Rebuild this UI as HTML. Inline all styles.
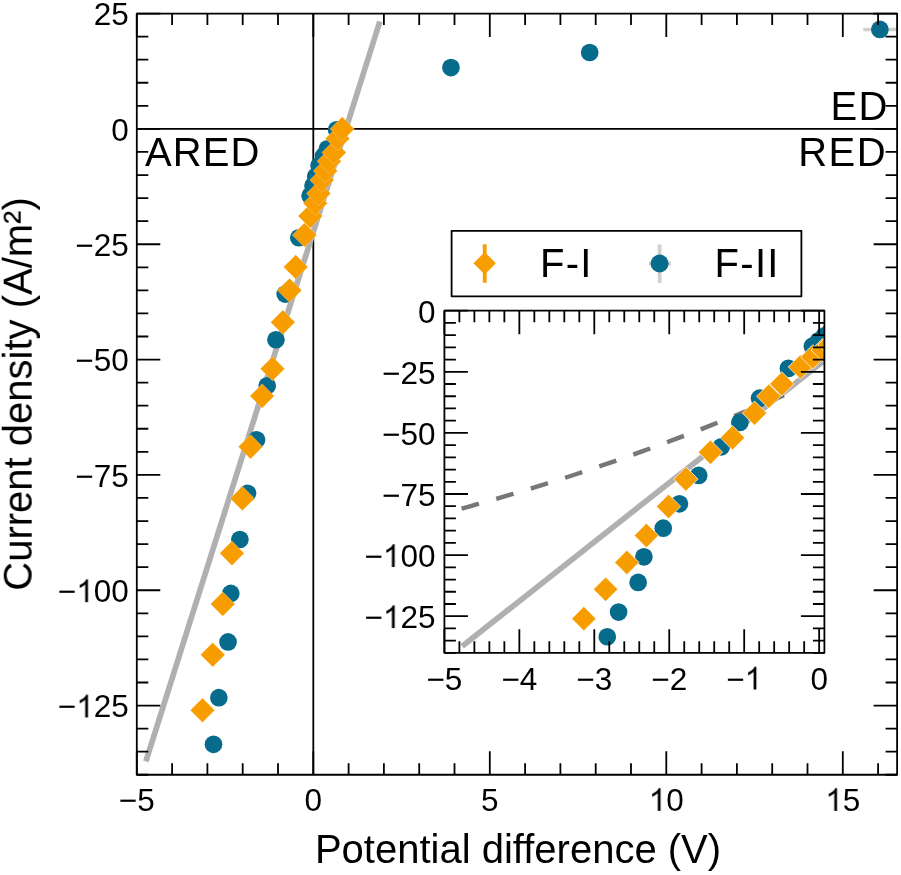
<!DOCTYPE html>
<html><head><meta charset="utf-8"><style>
html,body{margin:0;padding:0;background:#fff;}
body{width:901px;height:875px;overflow:hidden;font-family:"Liberation Sans",sans-serif;}
svg{display:block;} text{will-change:transform;}
</style></head><body>
<svg width="901" height="875" viewBox="0 0 901 875"><defs><clipPath id="mc"><rect x="136.8" y="13.57" width="760.3" height="761.19"/></clipPath><clipPath id="ic"><rect x="444.4" y="310.7" width="380" height="342.16"/></clipPath></defs><rect width="901" height="875" fill="#fff"/><line x1="136.8" y1="128.9" x2="897.1" y2="128.9" stroke="#000" stroke-width="1.8"/><line x1="313.3" y1="13.57" x2="313.3" y2="774.76" stroke="#000" stroke-width="1.8"/><g clip-path="url(#mc)"><line x1="145.87" y1="761.46" x2="379.84" y2="21.5" stroke="#B0B0B0" stroke-width="5.7"/><line x1="863.27" y1="29.39" x2="897.52" y2="29.39" stroke="#D0D0D0" stroke-width="3.5"/><circle cx="213.51" cy="744.31" r="8.85" fill="#076B8C"/><circle cx="218.84" cy="697.72" r="8.85" fill="#076B8C"/><circle cx="228.05" cy="641.9" r="8.85" fill="#076B8C"/><circle cx="230.77" cy="593.46" r="8.85" fill="#076B8C"/><circle cx="239.88" cy="539.48" r="8.85" fill="#076B8C"/><circle cx="247.5" cy="493.35" r="8.85" fill="#076B8C"/><circle cx="256.57" cy="439.84" r="8.85" fill="#076B8C"/><circle cx="267.2" cy="385.86" r="8.85" fill="#076B8C"/><circle cx="275.95" cy="339.73" r="8.85" fill="#076B8C"/><circle cx="285.24" cy="294.06" r="8.85" fill="#076B8C"/><circle cx="298.83" cy="237.77" r="8.85" fill="#076B8C"/><circle cx="310.12" cy="195.79" r="8.85" fill="#076B8C"/><circle cx="313.02" cy="185.64" r="8.85" fill="#076B8C"/><circle cx="315.7" cy="176.42" r="8.85" fill="#076B8C"/><circle cx="319.09" cy="165.58" r="8.85" fill="#076B8C"/><circle cx="323.54" cy="155.89" r="8.85" fill="#076B8C"/><circle cx="327.42" cy="148.74" r="8.85" fill="#076B8C"/><circle cx="336.6" cy="129.82" r="8.85" fill="#076B8C"/><circle cx="450.97" cy="67.54" r="8.85" fill="#076B8C"/><circle cx="589.7" cy="52.5" r="8.85" fill="#076B8C"/><circle cx="879.87" cy="29.39" r="8.85" fill="#076B8C"/><path d="M202.49 697.98L214.69 710.18L202.49 722.38L190.29 710.18Z" fill="#F79D00" stroke="#fff" stroke-width="0.25"/><path d="M212.73 642.62L224.93 654.82L212.73 667.02L200.53 654.82Z" fill="#F79D00" stroke="#fff" stroke-width="0.25"/><path d="M222.76 591.87L234.96 604.07L222.76 616.27L210.56 604.07Z" fill="#F79D00" stroke="#fff" stroke-width="0.25"/><path d="M231.93 541.12L244.13 553.32L231.93 565.52L219.73 553.32Z" fill="#F79D00" stroke="#fff" stroke-width="0.25"/><path d="M242.38 486.23L254.58 498.43L242.38 510.63L230.18 498.43Z" fill="#F79D00" stroke="#fff" stroke-width="0.25"/><path d="M250.54 434.56L262.74 446.76L250.54 458.96L238.34 446.76Z" fill="#F79D00" stroke="#fff" stroke-width="0.25"/><path d="M262.12 383.81L274.31 396.01L262.12 408.21L249.92 396.01Z" fill="#F79D00" stroke="#fff" stroke-width="0.25"/><path d="M272.49 356.59L284.69 368.79L272.49 380.99L260.29 368.79Z" fill="#F79D00" stroke="#fff" stroke-width="0.25"/><path d="M282.87 310L295.07 322.2L282.87 334.4L270.67 322.2Z" fill="#F79D00" stroke="#fff" stroke-width="0.25"/><path d="M289.58 278.17L301.78 290.37L289.58 302.57L277.38 290.37Z" fill="#F79D00" stroke="#fff" stroke-width="0.25"/><path d="M295.72 254.87L307.92 267.07L295.72 279.27L283.52 267.07Z" fill="#F79D00" stroke="#fff" stroke-width="0.25"/><path d="M304.48 222.81L316.68 235.01L304.48 247.21L292.28 235.01Z" fill="#F79D00" stroke="#fff" stroke-width="0.25"/><path d="M310.3 203.89L322.5 216.09L310.3 228.29L298.1 216.09Z" fill="#F79D00" stroke="#fff" stroke-width="0.25"/><path d="M315.24 190.97L327.44 203.17L315.24 215.37L303.04 203.17Z" fill="#F79D00" stroke="#fff" stroke-width="0.25"/><path d="M318.49 181.29L330.69 193.49L318.49 205.69L306.29 193.49Z" fill="#F79D00" stroke="#fff" stroke-width="0.25"/><path d="M321.91 167.91L334.11 180.11L321.91 192.31L309.71 180.11Z" fill="#F79D00" stroke="#fff" stroke-width="0.25"/><path d="M325.3 158.68L337.5 170.88L325.3 183.08L313.1 170.88Z" fill="#F79D00" stroke="#fff" stroke-width="0.25"/><path d="M329.11 148.99L341.31 161.19L329.11 173.39L316.91 161.19Z" fill="#F79D00" stroke="#fff" stroke-width="0.25"/><path d="M333.99 140.23L346.19 152.43L333.99 164.63L321.79 152.43Z" fill="#F79D00" stroke="#fff" stroke-width="0.25"/><path d="M337.52 126.39L349.72 138.59L337.52 150.79L325.32 138.59Z" fill="#F79D00" stroke="#fff" stroke-width="0.25"/><path d="M342.25 116.7L354.45 128.9L342.25 141.1L330.05 128.9Z" fill="#F79D00" stroke="#fff" stroke-width="0.25"/></g><rect x="136.8" y="13.57" width="760.3" height="761.19" fill="none" stroke="#000" stroke-width="1.8" stroke-linejoin="round"/><path d="M136.8 774.76v-23.5M136.8 13.57v23.5M172.1 774.76v-11.5M172.1 13.57v11.5M207.4 774.76v-11.5M207.4 13.57v11.5M242.7 774.76v-11.5M242.7 13.57v11.5M278 774.76v-11.5M278 13.57v11.5M313.3 774.76v-23.5M313.3 13.57v23.5M348.6 774.76v-11.5M348.6 13.57v11.5M383.9 774.76v-11.5M383.9 13.57v11.5M419.2 774.76v-11.5M419.2 13.57v11.5M454.5 774.76v-11.5M454.5 13.57v11.5M489.8 774.76v-23.5M489.8 13.57v23.5M525.1 774.76v-11.5M525.1 13.57v11.5M560.4 774.76v-11.5M560.4 13.57v11.5M595.7 774.76v-11.5M595.7 13.57v11.5M631 774.76v-11.5M631 13.57v11.5M666.3 774.76v-23.5M666.3 13.57v23.5M701.6 774.76v-11.5M701.6 13.57v11.5M736.9 774.76v-11.5M736.9 13.57v11.5M772.2 774.76v-11.5M772.2 13.57v11.5M807.5 774.76v-11.5M807.5 13.57v11.5M842.8 774.76v-23.5M842.8 13.57v23.5M878.1 774.76v-11.5M878.1 13.57v11.5M136.8 13.57h23.5M897.1 13.57h-23.5M136.8 36.63h11.5M897.1 36.63h-11.5M136.8 59.7h11.5M897.1 59.7h-11.5M136.8 82.77h11.5M897.1 82.77h-11.5M136.8 105.83h11.5M897.1 105.83h-11.5M136.8 128.9h23.5M897.1 128.9h-23.5M136.8 151.97h11.5M897.1 151.97h-11.5M136.8 175.03h11.5M897.1 175.03h-11.5M136.8 198.1h11.5M897.1 198.1h-11.5M136.8 221.17h11.5M897.1 221.17h-11.5M136.8 244.23h23.5M897.1 244.23h-23.5M136.8 267.3h11.5M897.1 267.3h-11.5M136.8 290.37h11.5M897.1 290.37h-11.5M136.8 313.43h11.5M897.1 313.43h-11.5M136.8 336.5h11.5M897.1 336.5h-11.5M136.8 359.56h23.5M897.1 359.56h-23.5M136.8 382.63h11.5M897.1 382.63h-11.5M136.8 405.7h11.5M897.1 405.7h-11.5M136.8 428.76h11.5M897.1 428.76h-11.5M136.8 451.83h11.5M897.1 451.83h-11.5M136.8 474.9h23.5M897.1 474.9h-23.5M136.8 497.96h11.5M897.1 497.96h-11.5M136.8 521.03h11.5M897.1 521.03h-11.5M136.8 544.1h11.5M897.1 544.1h-11.5M136.8 567.16h11.5M897.1 567.16h-11.5M136.8 590.23h23.5M897.1 590.23h-23.5M136.8 613.3h11.5M897.1 613.3h-11.5M136.8 636.36h11.5M897.1 636.36h-11.5M136.8 659.43h11.5M897.1 659.43h-11.5M136.8 682.5h11.5M897.1 682.5h-11.5M136.8 705.56h23.5M897.1 705.56h-23.5M136.8 728.63h11.5M897.1 728.63h-11.5M136.8 751.7h11.5M897.1 751.7h-11.5M136.8 774.76h11.5M897.1 774.76h-11.5" stroke="#000" stroke-width="1.8" fill="none"/><g font-family="Liberation Sans" font-size="31.5" fill="#000"><text x="136.8" y="810.9" text-anchor="middle">−5</text><text x="313.3" y="810.9" text-anchor="middle">0</text><text x="489.8" y="810.9" text-anchor="middle">5</text><text x="666.3" y="810.9" text-anchor="middle"> 0</text><path transform="translate(648.78 810.9) scale(0.01538 -0.01538)" d="M763 0L583 0L583 1147Q518 1085 412 1023Q306 961 222 930L222 1104Q373 1175 486 1276Q599 1377 646 1472L763 1472Z"/><text x="842.8" y="810.9" text-anchor="middle"> 5</text><path transform="translate(825.28 810.9) scale(0.01538 -0.01538)" d="M763 0L583 0L583 1147Q518 1085 412 1023Q306 961 222 930L222 1104Q373 1175 486 1276Q599 1377 646 1472L763 1472Z"/><text x="128.8" y="25.47" text-anchor="end">25</text><text x="128.8" y="140.8" text-anchor="end">0</text><text x="128.8" y="256.13" text-anchor="end">−25</text><text x="128.8" y="371.46" text-anchor="end">−50</text><text x="128.8" y="486.8" text-anchor="end">−75</text><text x="128.8" y="602.13" text-anchor="end">− 00</text><path transform="translate(76.24 602.13) scale(0.01538 -0.01538)" d="M763 0L583 0L583 1147Q518 1085 412 1023Q306 961 222 930L222 1104Q373 1175 486 1276Q599 1377 646 1472L763 1472Z"/><text x="128.8" y="717.46" text-anchor="end">− 25</text><path transform="translate(76.24 717.46) scale(0.01538 -0.01538)" d="M763 0L583 0L583 1147Q518 1085 412 1023Q306 961 222 930L222 1104Q373 1175 486 1276Q599 1377 646 1472L763 1472Z"/></g><g font-family="Liberation Sans" font-size="40" fill="#000"><text x="145" y="166" letter-spacing="1.1">ARED</text><text x="830.6" y="120.1" letter-spacing="1.2">ED</text><text x="798.2" y="166" letter-spacing="1.5">RED</text><text x="518" y="863.3" text-anchor="middle">Potential difference (V)</text><text transform="translate(31.7 394) rotate(-90)" text-anchor="middle">Current density (A/m²)</text></g><rect x="451.6" y="230.8" width="349.8" height="65.5" fill="#fff" stroke="#000" stroke-width="1.8" stroke-linejoin="round"/><line x1="484.7" y1="244.3" x2="484.7" y2="282.8" stroke="#F79D00" stroke-width="3.8"/><path d="M484.7 252.1L495.9 263.3L484.7 274.5L473.5 263.3Z" fill="#F79D00"/><path d="M659.6 244.4V282.9M649 263.5H671" stroke="#D0D0D0" stroke-width="3.8"/><circle cx="659.6" cy="263.5" r="9" fill="#076B8C"/><g font-family="Liberation Sans" font-size="40" fill="#000"><text x="540" y="277" letter-spacing="1.2">F-I</text><text x="714.6" y="277" letter-spacing="1.3">F-II</text></g><rect x="444.4" y="310.7" width="380" height="342.16" fill="#fff"/><g clip-path="url(#ic)"><line x1="462.16" y1="646.2" x2="834.14" y2="352.66" stroke="#B0B0B0" stroke-width="5.7"/><polyline points="461.6,508.54 469.87,506.28 478.13,503.98 486.4,501.65 494.67,499.28 502.93,496.88 511.2,494.45 519.47,491.99 527.73,489.48 536,486.95 544.27,484.38 552.53,481.78 560.8,479.14 569.07,476.47 577.33,473.77 585.6,471.03 593.87,468.26 602.13,465.45 610.4,462.62 618.67,459.74 626.93,456.83 635.2,453.89 643.47,450.92 651.73,447.91 660,444.87 668.27,441.79 676.53,438.68 684.8,435.54 693.07,432.36 701.33,429.14 709.6,425.9 717.87,422.62 726.13,419.3 734.4,415.96 742.67,412.57 750.93,409.16 759.2,405.71 767.47,402.23 775.73,398.71 784,395.16" fill="none" stroke="#777777" stroke-width="4.4" stroke-dasharray="18 18"/><circle cx="607.27" cy="636.73" r="8.85" fill="#076B8C"/><circle cx="618.58" cy="612.05" r="8.85" fill="#076B8C"/><circle cx="638.15" cy="582.47" r="8.85" fill="#076B8C"/><circle cx="643.92" cy="556.81" r="8.85" fill="#076B8C"/><circle cx="663.25" cy="528.22" r="8.85" fill="#076B8C"/><circle cx="679.44" cy="503.78" r="8.85" fill="#076B8C"/><circle cx="698.71" cy="475.43" r="8.85" fill="#076B8C"/><circle cx="721.27" cy="446.83" r="8.85" fill="#076B8C"/><circle cx="739.85" cy="422.39" r="8.85" fill="#076B8C"/><circle cx="759.56" cy="398.2" r="8.85" fill="#076B8C"/><circle cx="788.42" cy="368.38" r="8.85" fill="#076B8C"/><circle cx="812.4" cy="346.14" r="8.85" fill="#076B8C"/><circle cx="818.55" cy="340.76" r="8.85" fill="#076B8C"/><circle cx="824.25" cy="335.87" r="8.85" fill="#076B8C"/><circle cx="831.44" cy="330.13" r="8.85" fill="#076B8C"/><circle cx="840.89" cy="325" r="8.85" fill="#076B8C"/><circle cx="849.13" cy="321.21" r="8.85" fill="#076B8C"/><circle cx="868.62" cy="311.19" r="8.85" fill="#076B8C"/><circle cx="1111.45" cy="278.19" r="8.85" fill="#076B8C"/><circle cx="1406.01" cy="270.23" r="8.85" fill="#076B8C"/><circle cx="2022.1" cy="257.98" r="8.85" fill="#076B8C"/><path d="M583.88 606.44L596.08 618.64L583.88 630.84L571.68 618.64Z" fill="#F79D00" stroke="#fff" stroke-width="0.7"/><path d="M605.62 577.12L617.82 589.32L605.62 601.52L593.42 589.32Z" fill="#F79D00" stroke="#fff" stroke-width="0.7"/><path d="M626.9 550.23L639.1 562.43L626.9 574.63L614.7 562.43Z" fill="#F79D00" stroke="#fff" stroke-width="0.7"/><path d="M646.39 523.35L658.59 535.55L646.39 547.75L634.19 535.55Z" fill="#F79D00" stroke="#fff" stroke-width="0.7"/><path d="M668.58 494.26L680.78 506.46L668.58 518.66L656.38 506.46Z" fill="#F79D00" stroke="#fff" stroke-width="0.7"/><path d="M685.89 466.89L698.09 479.09L685.89 491.29L673.69 479.09Z" fill="#F79D00" stroke="#fff" stroke-width="0.7"/><path d="M710.47 440.01L722.67 452.21L710.47 464.41L698.27 452.21Z" fill="#F79D00" stroke="#fff" stroke-width="0.7"/><path d="M732.51 425.59L744.71 437.79L732.51 449.99L720.31 437.79Z" fill="#F79D00" stroke="#fff" stroke-width="0.7"/><path d="M754.54 400.9L766.74 413.1L754.54 425.3L742.34 413.1Z" fill="#F79D00" stroke="#fff" stroke-width="0.7"/><path d="M768.78 384.04L780.98 396.24L768.78 408.44L756.58 396.24Z" fill="#F79D00" stroke="#fff" stroke-width="0.7"/><path d="M781.82 371.7L794.02 383.9L781.82 396.1L769.62 383.9Z" fill="#F79D00" stroke="#fff" stroke-width="0.7"/><path d="M800.41 354.71L812.61 366.91L800.41 379.11L788.21 366.91Z" fill="#F79D00" stroke="#fff" stroke-width="0.7"/><path d="M812.78 344.69L824.98 356.89L812.78 369.09L800.58 356.89Z" fill="#F79D00" stroke="#fff" stroke-width="0.7"/><path d="M823.27 337.85L835.47 350.05L823.27 362.25L811.07 350.05Z" fill="#F79D00" stroke="#fff" stroke-width="0.7"/><path d="M830.17 332.72L842.37 344.92L830.17 357.12L817.97 344.92Z" fill="#F79D00" stroke="#fff" stroke-width="0.7"/><path d="M837.44 325.63L849.64 337.83L837.44 350.03L825.24 337.83Z" fill="#F79D00" stroke="#fff" stroke-width="0.7"/><path d="M844.63 320.74L856.83 332.94L844.63 345.14L832.43 332.94Z" fill="#F79D00" stroke="#fff" stroke-width="0.7"/><path d="M852.73 315.61L864.93 327.81L852.73 340.01L840.53 327.81Z" fill="#F79D00" stroke="#fff" stroke-width="0.7"/><path d="M863.07 310.96L875.27 323.16L863.07 335.36L850.87 323.16Z" fill="#F79D00" stroke="#fff" stroke-width="0.7"/><path d="M870.57 303.63L882.77 315.83L870.57 328.03L858.37 315.83Z" fill="#F79D00" stroke="#fff" stroke-width="0.7"/><path d="M880.61 298.5L892.81 310.7L880.61 322.9L868.41 310.7Z" fill="#F79D00" stroke="#fff" stroke-width="0.7"/></g><rect x="444.4" y="310.7" width="380" height="342.16" fill="none" stroke="#000" stroke-width="1.8" stroke-linejoin="round"/><path d="M444.4 652.86v-23.5M444.4 310.7v23.5M459.39 652.86v-11.5M459.39 310.7v11.5M474.38 652.86v-11.5M474.38 310.7v11.5M489.37 652.86v-11.5M489.37 310.7v11.5M504.36 652.86v-11.5M504.36 310.7v11.5M519.35 652.86v-23.5M519.35 310.7v23.5M534.34 652.86v-11.5M534.34 310.7v11.5M549.33 652.86v-11.5M549.33 310.7v11.5M564.32 652.86v-11.5M564.32 310.7v11.5M579.31 652.86v-11.5M579.31 310.7v11.5M594.3 652.86v-23.5M594.3 310.7v23.5M609.29 652.86v-11.5M609.29 310.7v11.5M624.28 652.86v-11.5M624.28 310.7v11.5M639.27 652.86v-11.5M639.27 310.7v11.5M654.26 652.86v-11.5M654.26 310.7v11.5M669.25 652.86v-23.5M669.25 310.7v23.5M684.24 652.86v-11.5M684.24 310.7v11.5M699.23 652.86v-11.5M699.23 310.7v11.5M714.22 652.86v-11.5M714.22 310.7v11.5M729.21 652.86v-11.5M729.21 310.7v11.5M744.2 652.86v-23.5M744.2 310.7v23.5M759.19 652.86v-11.5M759.19 310.7v11.5M774.18 652.86v-11.5M774.18 310.7v11.5M789.17 652.86v-11.5M789.17 310.7v11.5M804.16 652.86v-11.5M804.16 310.7v11.5M819.15 652.86v-23.5M819.15 310.7v23.5M444.4 310.7h23.5M824.4 310.7h-23.5M444.4 322.92h11.5M824.4 322.92h-11.5M444.4 335.14h11.5M824.4 335.14h-11.5M444.4 347.36h11.5M824.4 347.36h-11.5M444.4 359.58h11.5M824.4 359.58h-11.5M444.4 371.8h23.5M824.4 371.8h-23.5M444.4 384.02h11.5M824.4 384.02h-11.5M444.4 396.24h11.5M824.4 396.24h-11.5M444.4 408.46h11.5M824.4 408.46h-11.5M444.4 420.68h11.5M824.4 420.68h-11.5M444.4 432.9h23.5M824.4 432.9h-23.5M444.4 445.12h11.5M824.4 445.12h-11.5M444.4 457.34h11.5M824.4 457.34h-11.5M444.4 469.56h11.5M824.4 469.56h-11.5M444.4 481.78h11.5M824.4 481.78h-11.5M444.4 494h23.5M824.4 494h-23.5M444.4 506.22h11.5M824.4 506.22h-11.5M444.4 518.44h11.5M824.4 518.44h-11.5M444.4 530.66h11.5M824.4 530.66h-11.5M444.4 542.88h11.5M824.4 542.88h-11.5M444.4 555.1h23.5M824.4 555.1h-23.5M444.4 567.32h11.5M824.4 567.32h-11.5M444.4 579.54h11.5M824.4 579.54h-11.5M444.4 591.76h11.5M824.4 591.76h-11.5M444.4 603.98h11.5M824.4 603.98h-11.5M444.4 616.2h23.5M824.4 616.2h-23.5M444.4 628.42h11.5M824.4 628.42h-11.5M444.4 640.64h11.5M824.4 640.64h-11.5M444.4 652.86h11.5M824.4 652.86h-11.5" stroke="#000" stroke-width="1.8" fill="none"/><g font-family="Liberation Sans" font-size="31.5" fill="#000"><text x="444.4" y="689.5" text-anchor="middle">−5</text><text x="519.35" y="689.5" text-anchor="middle">−4</text><text x="594.3" y="689.5" text-anchor="middle">−3</text><text x="669.25" y="689.5" text-anchor="middle">−2</text><text x="744.2" y="689.5" text-anchor="middle">− </text><path transform="translate(744.64 689.5) scale(0.01538 -0.01538)" d="M763 0L583 0L583 1147Q518 1085 412 1023Q306 961 222 930L222 1104Q373 1175 486 1276Q599 1377 646 1472L763 1472Z"/><text x="819.15" y="689.5" text-anchor="middle">0</text><text x="435.5" y="322.6" text-anchor="end">0</text><text x="435.5" y="383.7" text-anchor="end">−25</text><text x="435.5" y="444.8" text-anchor="end">−50</text><text x="435.5" y="505.9" text-anchor="end">−75</text><text x="435.5" y="567" text-anchor="end">− 00</text><path transform="translate(382.94 567) scale(0.01538 -0.01538)" d="M763 0L583 0L583 1147Q518 1085 412 1023Q306 961 222 930L222 1104Q373 1175 486 1276Q599 1377 646 1472L763 1472Z"/><text x="435.5" y="628.1" text-anchor="end">− 25</text><path transform="translate(382.94 628.1) scale(0.01538 -0.01538)" d="M763 0L583 0L583 1147Q518 1085 412 1023Q306 961 222 930L222 1104Q373 1175 486 1276Q599 1377 646 1472L763 1472Z"/></g></svg>
</body></html>
